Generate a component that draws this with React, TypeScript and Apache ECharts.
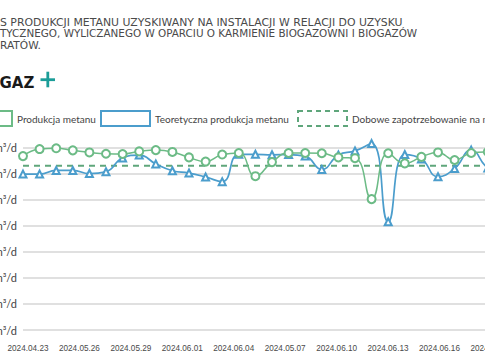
import React, { useEffect, useRef } from "react";
import * as echarts from "echarts";

// ---- data ----
const titleLines = [
  "S PRODUKCJI METANU UZYSKIWANY NA INSTALACJI W RELACJI DO UZYSKU",
  "TYCZNEGO, WYLICZANEGO W OPARCIU O KARMIENIE BIOGAZOWNI I BIOGAZÓW",
  "RATÓW.",
];
const titleStretch = [1.09, 1.04, 1.06];
const seriesNames = [
  "Produkcja metanu",
  "Teoretyczna produkcja metanu",
  "Dobowe zapotrzebowanie na metan",
];
const tickLabels = [
  "2024.04.23",
  "2024.05.26",
  "2024.05.29",
  "2024.06.01",
  "2024.06.04",
  "2024.05.07",
  "2024.06.10",
  "2024.06.13",
  "2024.06.16",
  "2024.06.19",
];
const production = [
  6670, 6940, 6970, 6890, 6810, 6760, 6750, 6850, 6900, 6830, 6620, 6460, 6730, 6790, 5900,
  6440, 6790, 6790, 6780, 6620, 6590, 5020, 6780, 6390, 6640, 6810, 6520, 6790, 6830, 6800,
];
const theoretical = [
  5980, 5980, 6120, 6120, 6000, 6070, 6600, 6710, 6370, 6110, 6020, 5870, 5690, 6740, 6740,
  6720, 6730, 6670, 6160, 6710, 6870, 7150, 4150, 6730, 6560, 5880, 6190, 6900, 6210, 6000,
];
const dailyDemand = 6300;
const days = production.map((_, i) => String(i + 1));

// ---- styles ----
const GREEN = "#6cbb86";
const DASH_GREEN = "#5fa67b";
const BLUE = "#4b9dcc";
const TEAL = "#1b9d98";
const OFF = 60; // page is a crop of a wider chart
const W = 620;
const px = (x: number) => x + OFF;

export default function App() {
  const ref = useRef<HTMLDivElement>(null);
  useEffect(() => {
    if (!ref.current) return;
    const chart = echarts.init(ref.current, null, { renderer: "svg" });
    const legendText = { fontFamily: "Lato", fontSize: 10, color: "#444" };
    const mkLegend = (left: number, name: string, color: string, dashed: boolean) => ({
      left,
      top: 110,
      padding: 0,
      icon: "rect",
      itemWidth: 49,
      itemHeight: 15,
      textStyle: legendText,
      data: [
        {
          name,
          itemStyle: {
            color: "#fff",
            borderColor: color,
            borderWidth: 2,
            borderType: dashed ? [5, 4] : "solid",
          },
        },
      ],
    });
    chart.setOption({
      animation: false,
      backgroundColor: "#fff",
      legend: [
        mkLegend(px(-38), seriesNames[0], GREEN, false),
        mkLegend(px(100), seriesNames[1], BLUE, false),
        mkLegend(px(297), seriesNames[2], DASH_GREEN, true),
      ],
      graphic: [
        ...titleLines.map((t, i) => ({
          type: "text",
          x: px(0),
          y: 22 + i * 11.6,
          scaleX: titleStretch[i],
          style: {
            text: t,
            fill: "#4a4a4a",
            font: "10px 'DejaVu Sans'",
            verticalAlign: "middle",
          },
        })),
        {
          type: "text",
          x: px(-0.5),
          y: 82.5,
          style: {
            text: "GAZ",
            fill: "#1a1a1a",
            font: "bold 15px 'DejaVu Sans'",
            verticalAlign: "middle",
          },
        },
        { type: "rect", shape: { x: px(40.5), y: 78.3, width: 14.5, height: 2.8 }, style: { fill: TEAL } },
        { type: "rect", shape: { x: px(46.4), y: 71.7, width: 2.8, height: 15.6 }, style: { fill: TEAL } },
      ],
      grid: { left: px(23), right: W - px(504.4), top: 147.5, bottom: 30, containLabel: false },
      xAxis: [
        {
          type: "category",
          data: days,
          boundaryGap: false,
          axisLine: { show: false },
          axisTick: { show: false },
          axisLabel: { show: false },
          splitLine: { show: false },
        },
        {
          type: "value",
          position: "bottom",
          min: -0.097,
          max: 9.262,
          axisLine: { show: false },
          axisTick: { show: false },
          splitLine: { show: false },
          axisLabel: {
            customValues: tickLabels.map((_, i) => i),
            formatter: (v: number) => tickLabels[Math.round(v)] ?? "",
            fontFamily: "'Liberation Sans'",
            fontSize: 8.2,
            color: "#4a4a4a",
            margin: 14,
          },
        },
      ],
      yAxis: {
        type: "value",
        min: 0,
        max: 7000,
        interval: 1000,
        axisLine: { show: false },
        axisTick: { show: false },
        splitLine: { lineStyle: { color: "#e0e0e0", width: 2 } },
        axisLabel: {
          formatter: (v: number) =>
            v === 0 ? "0 m³/d" : `${Math.floor(v / 1000)} ${String(v % 1000).padStart(3, "0")} m³/d`,
          fontFamily: "Lato",
          fontSize: 11,
          color: "#444",
          margin: 6,
        },
      },
      series: [
        {
          name: seriesNames[2],
          type: "line",
          xAxisIndex: 0,
          data: days.map(() => dailyDemand),
          symbol: "none",
          lineStyle: { color: DASH_GREEN, width: 2, type: [6, 5] },
          itemStyle: { color: DASH_GREEN },
          z: 1,
        },
        {
          name: seriesNames[1],
          type: "line",
          xAxisIndex: 0,
          data: theoretical,
          smooth: 0.5,
          clip: false,
          symbol: "emptyTriangle",
          symbolSize: 7,
          lineStyle: { color: BLUE, width: 1.7 },
          itemStyle: { color: BLUE, borderWidth: 1 },
          z: 2,
        },
        {
          name: seriesNames[0],
          type: "line",
          xAxisIndex: 0,
          data: production,
          smooth: 0.5,
          clip: false,
          symbol: "emptyCircle",
          symbolSize: 8,
          lineStyle: { color: GREEN, width: 1.5 },
          itemStyle: { color: GREEN, borderWidth: 1 },
          z: 3,
        },
      ],
    });
    return () => chart.dispose();
  }, []);
  return (
    <div
      style={{
        position: "fixed",
        left: 0,
        top: 0,
        width: 485,
        height: 360,
        overflow: "hidden",
        background: "#fff",
      }}
    >
      <div ref={ref} style={{ position: "absolute", left: -OFF, top: 0, width: W, height: 360 }} />
    </div>
  );
}
